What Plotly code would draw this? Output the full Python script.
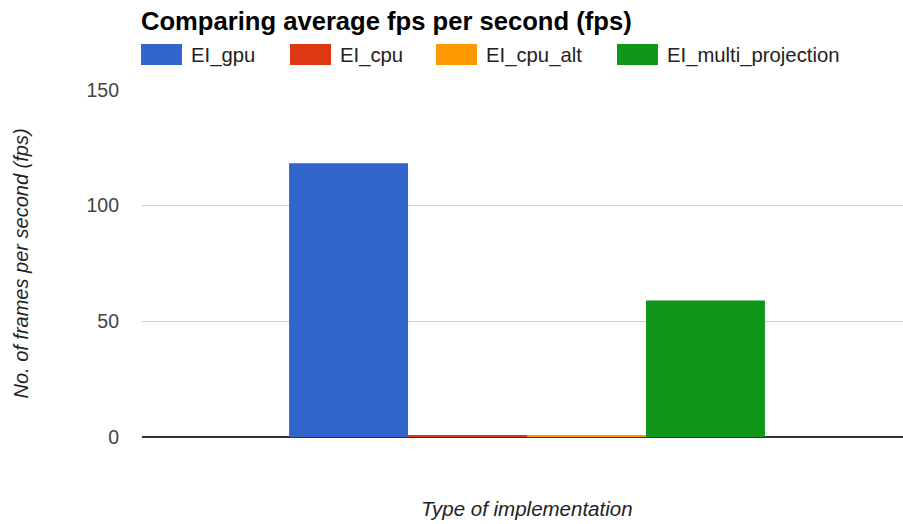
import plotly.graph_objects as go

# Average frame rate for each implementation
series_names = ["EI_gpu", "EI_cpu", "EI_cpu_alt", "EI_multi_projection"]
series_values = [118.3, 0.9, 0.6, 59.0]
series_colors = ["#3366cc", "#dc3912", "#ff9900", "#109618"]
category = [""]
y_ticks = [0, 50, 100, 150]

FONT = "Liberation Sans, Arial, sans-serif"
W, H = 903, 524
L, R, T, B = 142, 0, 90, 87
PW, PH = W - L - R, H - T - B


def px_x(x):
    """Pixel column -> paper x."""
    return (x - L) / PW


def px_y(y):
    """Pixel row -> paper y."""
    return 1 + (T - y) / PH


fig = go.Figure()
for name, val, col in zip(series_names, series_values, series_colors):
    fig.add_trace(go.Bar(
        x=category, y=[val], name=name,
        marker=dict(color=col, line=dict(width=0)),
        showlegend=False,
    ))

# Legend row: wide colour swatches followed by the series name
legend_x = [141, 290, 436, 617]
for name, col, lx in zip(series_names, series_colors, legend_x):
    fig.add_shape(type="rect", xref="paper", yref="paper",
                  x0=px_x(lx), x1=px_x(lx + 41),
                  y0=px_y(65), y1=px_y(44),
                  fillcolor=col, line=dict(width=0))
    fig.add_annotation(xref="paper", yref="paper",
                       x=px_x(lx + 48), y=px_y(55),
                       text=name, showarrow=False, xanchor="left", yanchor="middle",
                       font=dict(family=FONT, size=20.3, color="#222222"))

# Horizontal axis caption
fig.add_annotation(xref="paper", yref="paper", x=px_x(527), y=px_y(508),
                   text="<i>Type of implementation</i>", showarrow=False,
                   xanchor="center", yanchor="middle",
                   font=dict(family=FONT, size=20.5, color="#222222"))

fig.update_layout(
    width=W, height=H,
    margin=dict(l=L, r=R, t=T, b=B),
    paper_bgcolor="white", plot_bgcolor="white",
    barmode="group", bargap=0.382, bargroupgap=0,
    font=dict(family=FONT, color="#444444"),
    title=dict(text="<b>Comparing average fps per second (fps)</b>",
               x=141 / W, xanchor="left", y=1 - 21 / H, yanchor="middle",
               font=dict(family=FONT, size=25.6, color="#000000")),
    xaxis=dict(type="category", range=[-0.5, 0.4883], showticklabels=False,
               showgrid=False, zeroline=False, showline=False, ticks="",
               fixedrange=True),
    yaxis=dict(range=[0, 150], tickvals=y_ticks, ticks="",
               showgrid=True, gridcolor="#cccccc", gridwidth=1,
               zeroline=True, zerolinecolor="#333333", zerolinewidth=1.5,
               showline=False, ticklabelstandoff=22,
               tickfont=dict(family=FONT, size=19.5, color="#444444"),
               title=dict(text="<i>No. of frames per second (fps)</i>", standoff=52,
                          font=dict(family=FONT, size=20, color="#222222"))),
)

fig.write_html("out.html")
